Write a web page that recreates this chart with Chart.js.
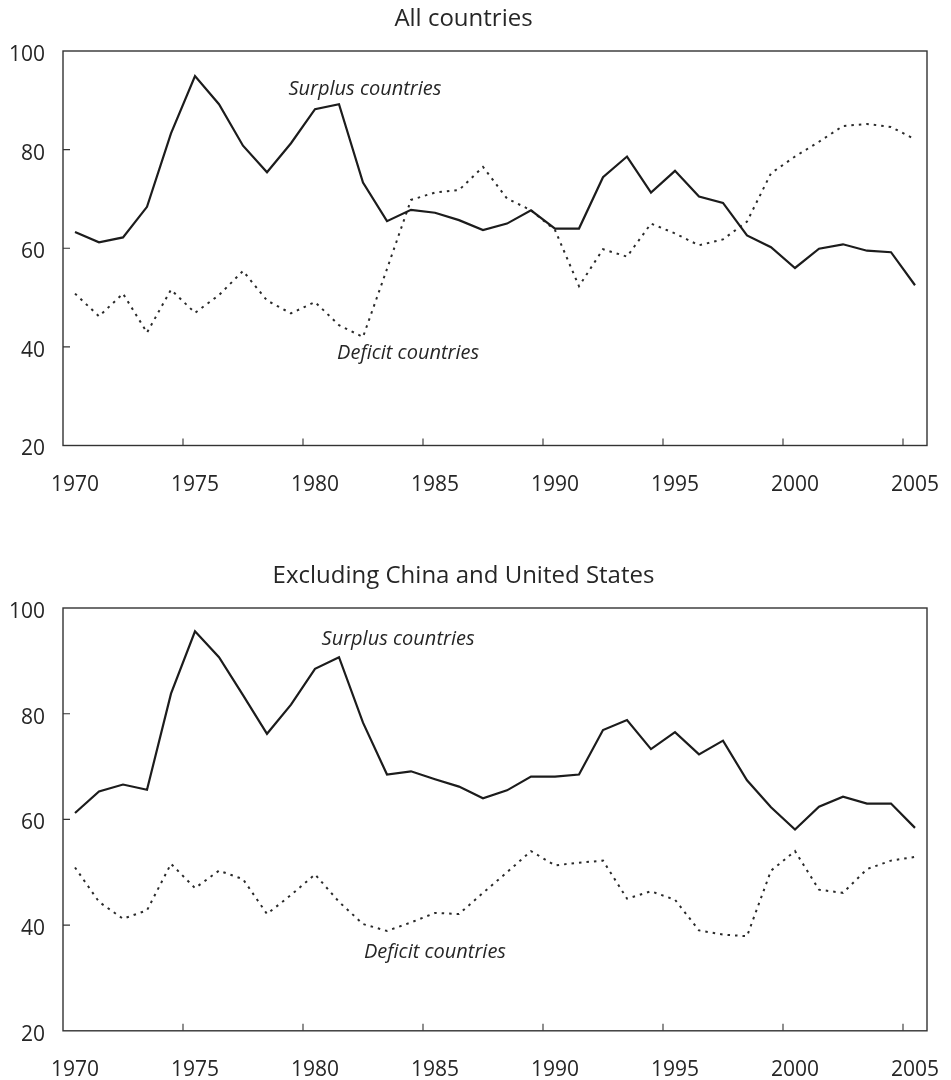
<!DOCTYPE html>
<html><head><meta charset="utf-8">
<script src="https://cdn.jsdelivr.net/npm/chart.js@4.4.1/dist/chart.umd.min.js"></script>
<style>
html,body{margin:0;padding:0;background:#fff;width:951px;height:1080px;overflow:hidden;}
.panel{position:absolute;left:0;width:951px;}
</style></head><body>
<div class="panel" style="top:0;height:500px"><canvas id="c1"></canvas></div>
<div class="panel" style="top:557px;height:523px"><canvas id="c2"></canvas></div>
<script>
// ---- data ----
const years = [1970,1971,1972,1973,1974,1975,1976,1977,1978,1979,1980,1981,1982,1983,1984,1985,1986,1987,1988,1989,1990,1991,1992,1993,1994,1995,1996,1997,1998,1999,2000,2001,2002,2003,2004,2005];
const xTickYears = [1970,1975,1980,1985,1990,1995,2000,2005];
const yTicks = [20,40,60,80,100];
const titleAll = 'All countries';
const titleExcl = 'Excluding China and United States';
const surplusLabel = 'Surplus countries';
const deficitLabel = 'Deficit countries';

const surplusAll = [63.3,61.2,62.2,68.4,83.3,94.9,89.2,80.8,75.4,81.3,88.2,89.2,73.3,65.5,67.8,67.2,65.7,63.7,65.0,67.7,64.0,64.0,74.4,78.6,71.3,75.7,70.5,69.2,62.6,60.2,56.0,59.9,60.8,59.5,59.2,52.5];
const deficitAll = [50.8,46.2,50.8,42.9,51.6,46.9,50.5,55.4,49.4,46.8,49.1,44.4,42.0,55.8,69.8,71.3,71.8,76.5,70.1,67.7,63.7,52.3,59.8,58.3,65.0,63.0,60.6,61.8,65.4,75.2,78.6,81.6,84.8,85.2,84.6,82.1];
const surplusExcl = [61.2,65.3,66.6,65.6,83.8,95.6,90.7,83.5,76.2,81.7,88.5,90.7,78.3,68.5,69.1,67.6,66.2,64.0,65.5,68.1,68.1,68.5,76.9,78.8,73.3,76.5,72.3,74.9,67.4,62.3,58.1,62.4,64.3,63.0,63.0,58.4];
const deficitExcl = [50.9,44.4,41.2,42.8,51.6,47.0,50.3,48.7,42.1,45.7,49.6,44.4,40.2,38.9,40.5,42.3,42.1,46.1,50.0,54.0,51.3,51.8,52.2,45.0,46.4,44.8,39.0,38.2,37.9,50.3,54.0,46.7,46.1,50.6,52.2,52.9];

const TXT = '#262626';
const tickFont = {family: "'Open Sans', sans-serif", size: 21};

const framePlugin = {
  id: 'frame',
  beforeDatasetsDraw(chart) {
    const {ctx, chartArea: a, scales: {x, y}} = chart;
    ctx.save();
    ctx.strokeStyle = '#333';
    ctx.lineWidth = 1.4;
    ctx.strokeRect(a.left, a.top, a.right - a.left, a.bottom - a.top);
    ctx.lineWidth = 1.1;
    ctx.beginPath();
    xTickYears.forEach(v => {
      if (v <= x.min || v >= x.max) return;
      const px = x.getPixelForValue(v);
      ctx.moveTo(px, a.bottom); ctx.lineTo(px, a.bottom - 7);
    });
    yTicks.forEach(v => {
      if (v <= y.min || v >= y.max) return;
      const py = y.getPixelForValue(v);
      ctx.moveTo(a.left, py); ctx.lineTo(a.left + 7, py);
    });
    ctx.stroke();
    ctx.restore();
  },
  afterDatasetsDraw(chart, args, opts) {
    const {ctx, scales: {x, y}} = chart;
    ctx.save();
    ctx.fillStyle = TXT;
    ctx.font = "italic 20px 'Open Sans', sans-serif";
    ctx.textAlign = 'center';
    ctx.textBaseline = 'alphabetic';
    (opts.notes || []).forEach(n => {
      ctx.fillText(n.text, x.getPixelForValue(n.x), y.getPixelForValue(n.y));
    });
    ctx.restore();
  }
};

function makeChart(id, title, surplus, deficit, plotBottom, canvasH, notes) {
  const toPts = arr => years.map((yr, i) => ({x: yr + 0.5, y: arr[i]}));
  return new Chart(document.getElementById(id), {
    type: 'line',
    data: {
      datasets: [
        {label: surplusLabel, data: toPts(surplus), borderColor: '#1c1c1c', borderWidth: 2.2, pointRadius: 0, tension: 0, borderJoinStyle: 'miter'},
        {label: deficitLabel, data: toPts(deficit), borderColor: '#2a2a2a', borderWidth: 2, borderDash: [2.5, 5], pointRadius: 0, tension: 0}
      ]
    },
    options: {
      responsive: true,
      maintainAspectRatio: false,
      animation: false,
      events: [],
      layout: {padding: {left: 0, right: 24, top: 0, bottom: 0}},
      plugins: {
        legend: {display: false},
        tooltip: {enabled: false},
        title: {
          display: true, text: title, color: TXT,
          font: {family: "'Open Sans', sans-serif", size: 24, weight: 'normal', lineHeight: 1.2},
          padding: {top: 4.5, bottom: 17.7}
        },
        frame: {notes}
      },
      scales: {
        x: {
          type: 'linear', min: 1970, max: 2006,
          afterBuildTicks: s => { s.ticks = xTickYears.map(v => ({value: v})); },
          afterFit: s => { s.height = canvasH - plotBottom; s.paddingLeft = 0; s.paddingRight = 0; },
          grid: {display: false, drawTicks: false},
          border: {display: false},
          ticks: {callback: v => String(v), color: TXT, font: tickFont, padding: 27, labelOffset: 12, autoSkip: false, maxRotation: 0}
        },
        y: {
          min: 20, max: 100,
          afterBuildTicks: s => { s.ticks = yTicks.map(v => ({value: v})); },
          afterFit: s => { s.width = 63; s.paddingTop = 0; s.paddingBottom = 0; },
          grid: {display: false, drawTicks: false},
          border: {display: false},
          ticks: {color: TXT, font: tickFont, padding: 18, labelOffset: 4}
        }
      }
    },
    plugins: [framePlugin]
  });
}

makeChart('c1', titleAll, surplusAll, deficitAll, 445.5, 500, [
  {text: surplusLabel, x: 1982.58, y: 91.07},
  {text: deficitLabel, x: 1984.38, y: 37.6}
]);
makeChart('c2', titleExcl, surplusExcl, deficitExcl, 473.8, 523, [
  {text: surplusLabel, x: 1983.96, y: 92.96},
  {text: deficitLabel, x: 1985.5, y: 33.7}
]);
</script>
</body></html>
